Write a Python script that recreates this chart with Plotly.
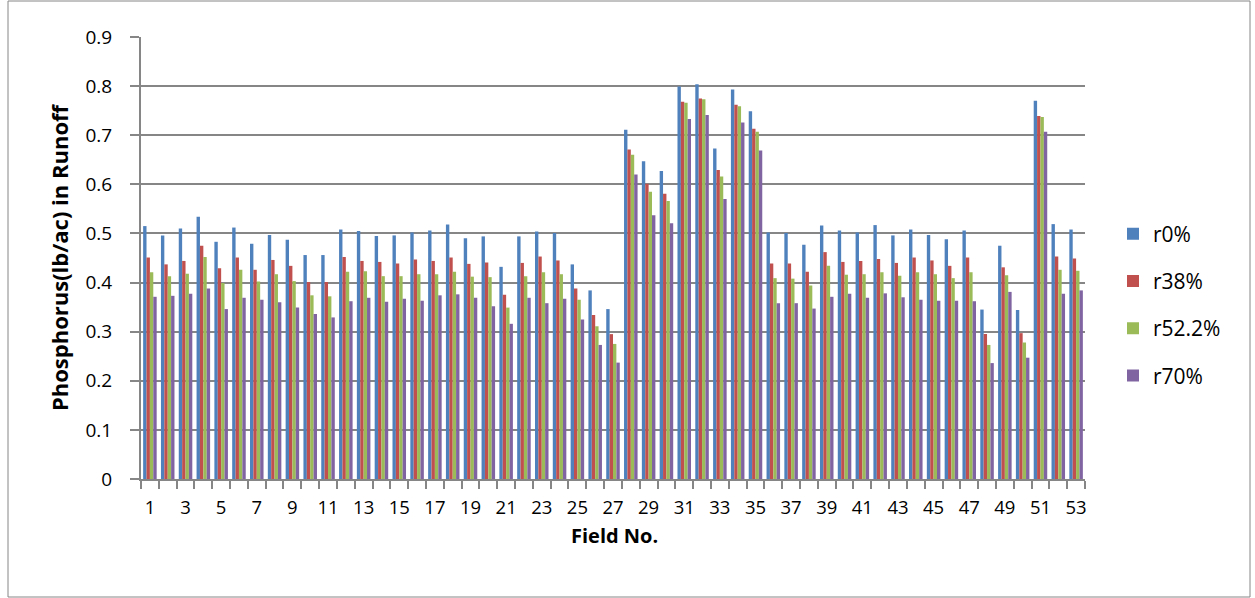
import plotly.graph_objects as go

fields = list(range(1, 54))

r0 = [0.515, 0.496, 0.510, 0.534, 0.483, 0.512, 0.479, 0.497, 0.487, 0.456,
      0.456, 0.508, 0.505, 0.495, 0.496, 0.502, 0.506, 0.518, 0.490, 0.494,
      0.432, 0.494, 0.504, 0.501, 0.437, 0.384, 0.346, 0.711, 0.647, 0.627,
      0.799, 0.804, 0.673, 0.793, 0.749, 0.502, 0.501, 0.477, 0.516, 0.506,
      0.502, 0.517, 0.496, 0.508, 0.497, 0.488, 0.506, 0.345, 0.475, 0.344,
      0.770, 0.519, 0.508]
r38 = [0.451, 0.437, 0.444, 0.475, 0.429, 0.451, 0.426, 0.446, 0.434, 0.401,
       0.401, 0.452, 0.444, 0.442, 0.439, 0.447, 0.444, 0.451, 0.438, 0.441,
       0.375, 0.440, 0.453, 0.445, 0.388, 0.334, 0.295, 0.671, 0.601, 0.581,
       0.768, 0.775, 0.629, 0.762, 0.713, 0.439, 0.439, 0.422, 0.462, 0.442,
       0.444, 0.448, 0.440, 0.451, 0.445, 0.434, 0.451, 0.295, 0.431, 0.297,
       0.739, 0.453, 0.449]
r52 = [0.421, 0.413, 0.418, 0.452, 0.399, 0.426, 0.402, 0.417, 0.403, 0.374,
       0.372, 0.422, 0.423, 0.413, 0.413, 0.417, 0.417, 0.422, 0.412, 0.411,
       0.349, 0.413, 0.421, 0.417, 0.365, 0.311, 0.275, 0.660, 0.585, 0.566,
       0.766, 0.773, 0.616, 0.759, 0.707, 0.409, 0.408, 0.394, 0.434, 0.416,
       0.417, 0.421, 0.414, 0.421, 0.417, 0.409, 0.421, 0.273, 0.415, 0.278,
       0.737, 0.426, 0.424]
r70 = [0.371, 0.373, 0.377, 0.388, 0.346, 0.369, 0.365, 0.360, 0.349, 0.336,
       0.329, 0.362, 0.369, 0.361, 0.367, 0.363, 0.374, 0.376, 0.369, 0.352,
       0.316, 0.369, 0.358, 0.367, 0.325, 0.273, 0.237, 0.620, 0.537, 0.521,
       0.733, 0.741, 0.570, 0.726, 0.669, 0.358, 0.358, 0.347, 0.371, 0.377,
       0.369, 0.378, 0.370, 0.365, 0.363, 0.363, 0.362, 0.236, 0.381, 0.247,
       0.707, 0.377, 0.384]

series = [("r0%", r0, "#4F81BD"), ("r38%", r38, "#C0504D"),
          ("r52.2%", r52, "#9BBB59"), ("r70%", r70, "#8064A2")]

FONT = "'Open Sans', sans-serif"

fig = go.Figure()
for name, vals, col in series:
    fig.add_trace(go.Bar(x=fields, y=vals, name=name, marker_color=col,
                         marker_line_width=0, legendgroup=name))

L, R, T, B = 141, 170, 37, 119
W, H = 1255, 598
pw, ph = W - L - R, H - T - B

def px(x):
    return (x - L) / pw

def py(y):
    return (H - B - y) / ph

fig.update_layout(
    width=W, height=H,
    margin=dict(l=L, r=R, t=T, b=B, autoexpand=False),
    paper_bgcolor="white", plot_bgcolor="white",
    barmode="group", bargap=0.24, bargroupgap=0,
    font=dict(family=FONT, size=18, color="#000000"),
    legend=dict(x=px(1113), y=py(305), xanchor="left", yanchor="middle",
                font=dict(size=21), traceorder="grouped", tracegroupgap=17,
                itemwidth=30),
    xaxis=dict(range=[0.5, 53.5], tickmode="array",
               tickvals=list(range(1, 54, 2)), ticktext=[str(v) for v in range(1, 54, 2)],
               ticks="", showline=True, linecolor="#868686", linewidth=2,
               showgrid=False, zeroline=False, ticklabelstandoff=11,
               minor=dict(tickmode="array", tickvals=[v + 0.5 for v in range(0, 54)],
                          ticks="outside", ticklen=8, tickcolor="#868686", tickwidth=2,
                          showgrid=False),
               tickfont=dict(size=18.5)),
    yaxis=dict(range=[0, 0.9], dtick=0.1, tick0=0, showgrid=True,
               gridcolor="#868686", gridwidth=2, showline=True,
               linecolor="#868686", linewidth=2, zeroline=False,
               ticks="outside", ticklen=9, tickcolor="#868686", tickwidth=2,
               ticklabelstandoff=14,
               title=dict(text="<b>Phosphorus(lb/ac) in Runoff</b>", font=dict(size=22), standoff=11),
               tickfont=dict(size=19)),
    annotations=[dict(text="<b>Field No.</b>", xref="paper", yref="paper",
                      x=px(614), y=py(535), xanchor="center", yanchor="middle",
                      showarrow=False, font=dict(size=20))],
    shapes=[dict(type="rect", xref="paper", yref="paper",
                 x0=px(8), x1=px(1250), y0=py(597), y1=py(1),
                 line=dict(color="#868686", width=1), layer="below")],
)

fig.write_html("out.html")
